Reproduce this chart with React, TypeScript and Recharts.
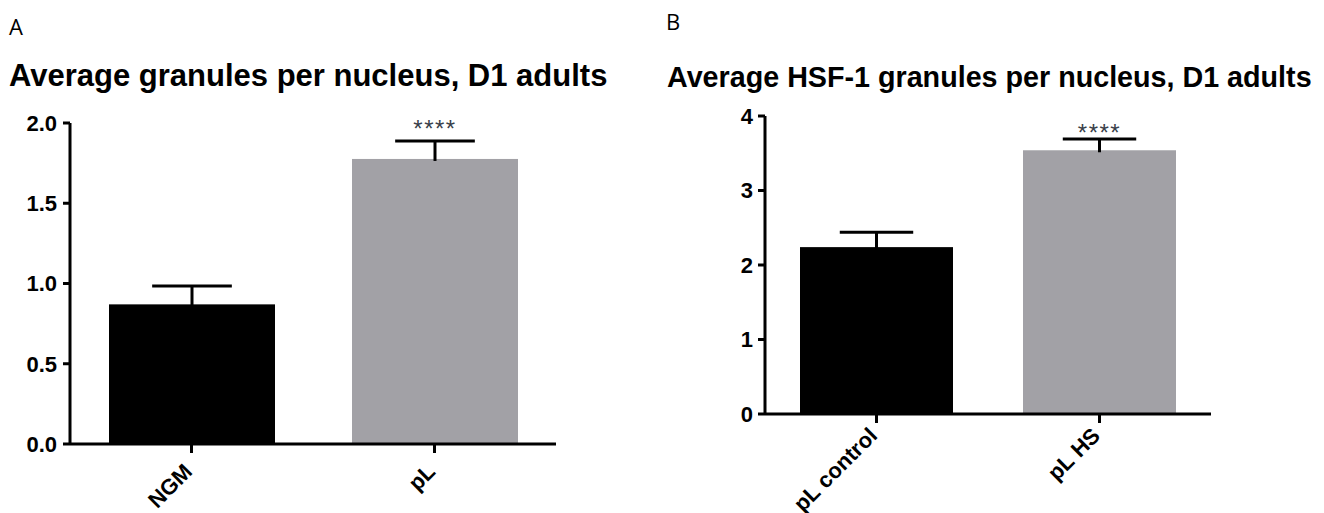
import { BarChart, Bar, XAxis, YAxis } from 'recharts';

// panel A
const groupsA = ['NGM', 'pL'];
const meansA = [0.87, 1.776];
const semA = [0.114, 0.112];
const sigA = ['', '****'];
const ticksA = [0, 0.5, 1, 1.5, 2];

// panel B
const groupsB = ['pL control', 'pL HS'];
const meansB = [2.24, 3.54];
const semB = [0.2, 0.15];
const sigB = ['', '****'];
const ticksB = [0, 1, 2, 3, 4];

const COLORS = ['#000000', '#a2a1a6'];
const FONT = '"Liberation Sans", Arial, sans-serif';

const makeRows = (groups: string[], means: number[], sem: number[], sig: string[]) =>
    groups.map((name, i) => ({ name, mean: means[i], sem: sem[i], sig: sig[i], fill: COLORS[i % COLORS.length] }));

// bar + upper error bar + significance stars
const BarWithError = (props: any) => {
    const { x, y, width, height, payload, value, starGap } = props;
    const v = Array.isArray(value) ? value[1] : value;
    const perUnit = v ? height / v : 0;
    const capY = y - payload.sem * perUnit;
    const cx = x + width / 2;
    const capW = width * 0.48;
    return (
        <g>
            <rect x={x} y={y} width={width} height={height} fill={payload.fill} />
            <line x1={cx} x2={cx} y1={y + 2} y2={capY} stroke="#000" strokeWidth={3} />
            <line x1={cx - capW / 2} x2={cx + capW / 2} y1={capY} y2={capY} stroke="#000" strokeWidth={3} />
            {payload.sig && (
                <text
                    x={cx}
                    y={capY - starGap}
                    textAnchor="middle"
                    fontSize={24}
                    letterSpacing={1.5}
                    fill="#3a3f4a"
                    fontFamily={FONT}
                >
                    {payload.sig}
                </text>
            )}
        </g>
    );
};

const XTick = ({ x, y, payload, labelDy }: any) => (
    <text
        x={x + 2}
        y={y + labelDy}
        textAnchor="end"
        transform={`rotate(-45, ${x + 2}, ${y + labelDy})`}
        fontSize={22}
        fontWeight="bold"
        fontFamily={FONT}
        fill="#000"
    >
        {payload.value}
    </text>
);

interface PanelProps {
    rows: any[];
    ticks: number[];
    fmt: (v: number) => string;
    width: number;
    axisW: number;
    top: number;
    right: number;
    xAxisH: number;
    barSize: number;
    labelDy: number;
    tickMargin: number;
    starGap: number;
}

function Panel({ rows, ticks, fmt, width, axisW, top, right, xAxisH, barSize, labelDy, tickMargin, starGap }: PanelProps) {
    const axisStyle = { stroke: '#000', strokeWidth: 3 };
    return (
        <BarChart width={width} height={513} data={rows} margin={{ top, right, left: 0, bottom: 9 }}>
            <XAxis
                dataKey="name"
                height={xAxisH}
                axisLine={axisStyle}
                tickLine={axisStyle}
                tickSize={9}
                interval={0}
                tick={<XTick labelDy={labelDy} />}
            />
            <YAxis
                width={axisW}
                domain={[ticks[0], ticks[ticks.length - 1]]}
                ticks={ticks}
                tickFormatter={fmt}
                axisLine={axisStyle}
                tickLine={axisStyle}
                tickSize={7}
                tickMargin={tickMargin}
                tick={{ fill: '#000', fontSize: 22, fontWeight: 'bold', fontFamily: FONT }}
            />
            <Bar dataKey="mean" barSize={barSize} isAnimationActive={false} shape={<BarWithError starGap={starGap} />} />
        </BarChart>
    );
}

export default function App() {
    const rowsA = makeRows(groupsA, meansA, semA, sigA);
    const rowsB = makeRows(groupsB, meansB, semB, sigB);
    const titleStyle: any = {
        position: 'absolute',
        fontFamily: FONT,
        fontWeight: 'bold',
        color: '#000',
        whiteSpace: 'nowrap',
        lineHeight: 1,
    };
    const letterStyle: any = { position: 'absolute', fontFamily: '"Open Sans", sans-serif', fontSize: 22, color: '#000', lineHeight: 1 };
    return (
        <div style={{ position: 'absolute', left: 0, top: 0, width: 1324, height: 513, background: '#fff', overflow: 'hidden' }}>
            <div style={{ ...letterStyle, left: 9, top: 15 }}>A</div>
            <div style={{ ...letterStyle, left: 666, top: 10 }}>B</div>
            <div style={{ ...titleStyle, left: 9, top: 60, fontSize: 31 }}>Average granules per nucleus, D1 adults</div>
            <div style={{ ...titleStyle, left: 667, top: 63, fontSize: 28.7 }}>Average HSF-1 granules per nucleus, D1 adults</div>
            <div style={{ position: 'absolute', left: 0, top: 0 }}>
                <Panel
                    rows={rowsA}
                    ticks={ticksA}
                    fmt={(v) => v.toFixed(1)}
                    width={660}
                    axisW={70}
                    top={123}
                    right={104}
                    xAxisH={60}
                    barSize={166}
                    labelDy={18}
                    tickMargin={6}
                    starGap={4}
                />
            </div>
            <div style={{ position: 'absolute', left: 680, top: 0 }}>
                <Panel
                    rows={rowsB}
                    ticks={ticksB}
                    fmt={(v) => String(v)}
                    width={600}
                    axisW={85}
                    top={116}
                    right={69}
                    xAxisH={90}
                    barSize={153}
                    labelDy={12}
                    tickMargin={5}
                    starGap={-2}
                />
            </div>
        </div>
    );
}
